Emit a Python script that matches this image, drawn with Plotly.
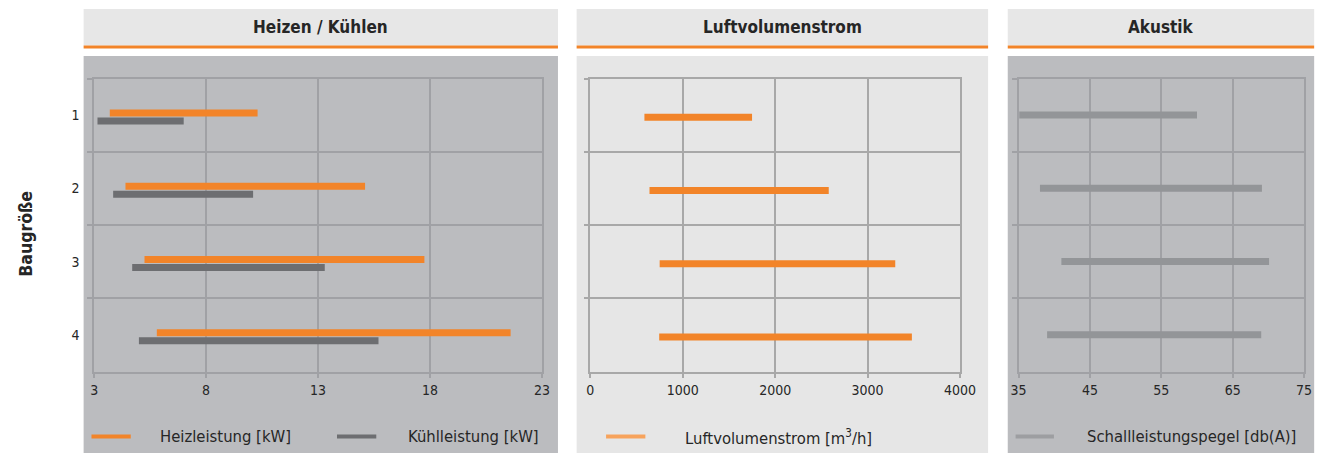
import plotly.graph_objects as go

# ---- data ----
sizes = ["1", "2", "3", "4"]

heat_min = [3.7, 4.4, 5.25, 5.8]      # Heizleistung [kW]
heat_max = [10.3, 15.1, 17.75, 21.6]
cool_min = [3.15, 3.85, 4.7, 5.0]     # Kühlleistung [kW]
cool_max = [7.0, 10.1, 13.3, 15.7]

air_min = [585, 640, 750, 745]        # Luftvolumenstrom [m³/h]
air_max = [1750, 2580, 3300, 3480]

sound_min = [35.1, 38.0, 41.0, 39.0]  # Schallleistungspegel [db(A)]
sound_max = [60.0, 69.1, 70.1, 69.0]

panel_titles = ["Heizen / Kühlen", "Luftvolumenstrom", "Akustik"]
legend_labels = ["Heizleistung [kW]", "Kühlleistung [kW]",
                 "Luftvolumenstrom [m<sup>3</sup>/h]", "Schallleistungspegel [db(A)]"]

# ---- style ----
W, H = 1339, 453
FONT = "DejaVu Sans Condensed, Liberation Sans Narrow, sans-serif"
TXT = "#262626"
ORANGE = "#F28429"
DARK = "#6D6E71"
MID = "#939598"
LIGHT_OR = "#F7A35C"
GRAY_BG = "#BBBCBF"
LIGHT_BG = "#E6E6E6"
HEAD_BG = "#E7E7E7"
GRID1 = "#A0A1A5"
GRID2 = "#A8A8A8"


def px_x(v):
    return v / W


def px_y(v):
    return 1 - v / H


def span(lo, hi):
    return [h - l for l, h in zip(lo, hi)]


fig = go.Figure()

BW = 0.096
fig.add_trace(go.Bar(orientation="h", y=sizes, base=heat_min, x=span(heat_min, heat_max),
                     width=BW, offset=-0.078, marker=dict(color=ORANGE, line_width=0),
                     xaxis="x", yaxis="y", showlegend=False))
fig.add_trace(go.Bar(orientation="h", y=sizes, base=cool_min, x=span(cool_min, cool_max),
                     width=BW, offset=0.032, marker=dict(color=DARK, line_width=0),
                     xaxis="x", yaxis="y", showlegend=False))
fig.add_trace(go.Bar(orientation="h", y=sizes, base=air_min, x=span(air_min, air_max),
                     width=BW, offset=-0.018, marker=dict(color=ORANGE, line_width=0),
                     xaxis="x2", yaxis="y2", showlegend=False))
fig.add_trace(go.Bar(orientation="h", y=sizes, base=sound_min, x=span(sound_min, sound_max),
                     width=BW, offset=-0.05, marker=dict(color=MID, line_width=0),
                     xaxis="x3", yaxis="y3", showlegend=False))

y_dom = [px_y(371.5), px_y(78.5)]
panels = [
    # (plot x-left, plot x-right, bg left, bg right, bg colour, grid colour, range, dtick)
    (87.7, 543.7, 77, 560, GRAY_BG, GRID1, [3, 23], 5),
    (593.0, 969.3, 579, 998, LIGHT_BG, GRID2, [0, 4000], 1000),
    (1029.0, 1319.7, 1018, 1330, GRAY_BG, GRID1, [35, 75], 10),
]

shapes = []
annotations = []
layout_axes = {}
for i, (xl, xr, bl, br, bg, grid, rng, dt) in enumerate(panels):
    sfx = "" if i == 0 else str(i + 1)
    layout_axes["xaxis" + sfx] = dict(
        domain=[px_x(xl), px_x(xr)], range=rng, tick0=rng[0], dtick=dt,
        anchor="y" + sfx, showgrid=True, gridcolor=grid, gridwidth=1.5,
        showline=True, linecolor=grid, linewidth=1.5, mirror=True,
        ticks="outside", ticklen=5, tickcolor=grid, tickwidth=1.5,
        zeroline=False, fixedrange=True,
        tickfont=dict(family=FONT, size=14, color=TXT),
    )
    layout_axes["yaxis" + sfx] = dict(
        domain=y_dom, type="category", categoryorder="array", categoryarray=sizes,
        range=[3.5, -0.5], anchor="x" + sfx, tickson="boundaries",
        showgrid=True, gridcolor=grid, gridwidth=1.5,
        showline=True, linecolor=grid, linewidth=1.5, mirror=True,
        ticks="outside", ticklen=5, tickcolor=grid, tickwidth=1.5,
        showticklabels=(i == 0), ticklabelstandoff=10, zeroline=False, fixedrange=True,
        tickfont=dict(family=FONT, size=14, color=TXT),
    )
    # panel body
    shapes.append(dict(type="rect", xref="paper", yref="paper", layer="below",
                       x0=px_x(bl), x1=px_x(br), y0=0, y1=px_y(56),
                       fillcolor=bg, line_width=0))
    # header box with orange rule
    shapes.append(dict(type="rect", xref="paper", yref="paper", layer="below",
                       x0=px_x(bl), x1=px_x(br), y0=px_y(45.5), y1=px_y(9),
                       fillcolor=HEAD_BG, line_width=0))
    shapes.append(dict(type="rect", xref="paper", yref="paper", layer="below",
                       x0=px_x(bl), x1=px_x(br), y0=px_y(48.5), y1=px_y(45.5),
                       fillcolor=ORANGE, line_width=0))
    annotations.append(dict(xref="paper", yref="paper", x=px_x((bl + br) / 2), y=px_y(27),
                            text="<b>%s</b>" % panel_titles[i], showarrow=False,
                            xanchor="center", yanchor="middle",
                            font=dict(family=FONT, size=17, color=TXT)))

# legend rows
legend_items = [
    (85, 125, ORANGE, 153, legend_labels[0]),
    (335, 375, DARK, 405, legend_labels[1]),
    (609, 649, LIGHT_OR, 687, legend_labels[2]),
    (1026, 1065, "#9D9EA1", 1097, legend_labels[3]),
]
LEG_Y = 436.5
for x0, x1, col, tx, label in legend_items:
    shapes.append(dict(type="line", xref="paper", yref="paper",
                       x0=px_x(x0), x1=px_x(x1), y0=px_y(LEG_Y), y1=px_y(LEG_Y),
                       line=dict(color=col, width=4)))
    annotations.append(dict(xref="paper", yref="paper", x=px_x(tx), y=px_y(LEG_Y),
                            text=label, showarrow=False, xanchor="left", yanchor="middle",
                            font=dict(family=FONT, size=16.5, color=TXT)))

annotations.append(dict(xref="paper", yref="paper", x=px_x(18), y=px_y(234),
                        text="<b>Baugröße</b>", textangle=-90, showarrow=False,
                        xanchor="center", yanchor="middle",
                        font=dict(family=FONT, size=17.5, color=TXT)))

fig.update_layout(
    width=W, height=H, margin=dict(l=0, r=0, t=0, b=0),
    paper_bgcolor="white", plot_bgcolor="rgba(0,0,0,0)",
    barmode="overlay", showlegend=False,
    shapes=shapes, annotations=annotations,
    font=dict(family=FONT, color=TXT),
    **layout_axes,
)

# keep the page flush with the window edges
fig.write_html(
    "out.html",
    config={"displayModeBar": False, "responsive": False},
    post_script="document.body.style.margin='0';document.body.style.overflow='hidden';",
)
